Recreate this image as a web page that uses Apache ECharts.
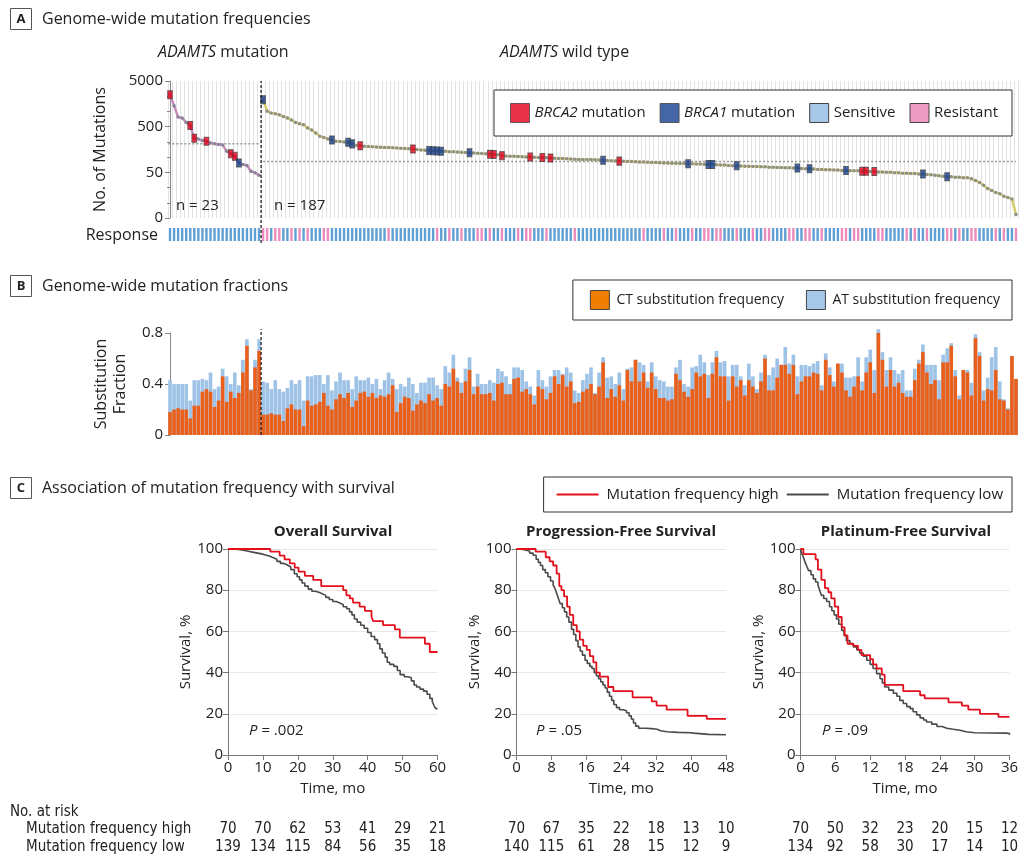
<!DOCTYPE html>
<html>
<head>
<meta charset="utf-8">
<title>ADAMTS mutation frequency</title>
<script src="https://cdn.jsdelivr.net/npm/echarts@6.0.0/dist/echarts.min.js"></script>
<style>
  html, body { margin: 0; padding: 0; background: #fff; }
  #main { width: 1022px; height: 858px; }
</style>
</head>
<body>
<div id="main"></div>
<script>
// ---- data ----
// A: number of mutations per sample (sorted), ADAMTS mutated group then wild type
var mutantCounts = [2500, 1440, 810, 775, 620, 530, 280, 268, 250, 240, 220, 212, 203, 199, 144, 128, 112, 80, 74, 71, 53, 49, 43];
var wildCounts = [
  1950, 1090, 990, 960, 910, 840, 775, 700, 620, 580,
  550, 470, 420, 365, 310, 290, 270, 255, 240, 236,
  232, 228, 210, 195, 190, 187, 184, 181, 179, 177,
  175, 174, 172, 170, 169, 167, 165, 162, 158, 155,
  152, 150, 148, 147, 145, 144, 142, 141, 139, 137,
  136, 134, 133, 131, 129, 127, 125, 123, 122, 116,
  114, 113, 112, 111, 110, 109, 108, 107, 106, 105,
  104, 103, 102, 101, 100, 99, 98, 97, 96, 96,
  95, 95, 94, 93, 92, 91, 90, 89, 88, 87,
  86, 86, 85, 84, 84, 83, 82, 82, 81, 80,
  80, 79, 79, 78, 78, 77, 77, 76, 76, 75,
  74, 74, 73, 72, 72, 71, 70, 70, 69, 68,
  68, 67, 67, 66, 66, 65, 65, 64, 64, 63,
  63, 62, 62, 61, 60, 60, 59, 58, 58, 57,
  57, 56, 56, 55, 55, 54, 54, 54, 53, 53,
  52, 52, 51, 51, 50, 50, 49, 49, 48, 48,
  47, 47, 46, 46, 45, 44, 43, 42, 41, 40,
  40, 39, 39, 38, 38, 36, 33, 30, 26, 22,
  20, 18, 17, 15, 14, 13, 6
];
var mutantMedian = 212;
var wildMedian = 86;
var mutTickLabels = ['0', '50', '500', '5000'];
var axisFloor = 5; // value sitting at the "0" tick of the log axis

// sample positions (0 based, over all 210) with BRCA mutations
var brca2Idx = [0, 5, 6, 9, 15, 16, 47, 60, 79, 80, 82, 89, 92, 94, 111, 171, 172, 174];
var brca1Idx = [17, 23, 40, 44, 45, 64, 65, 66, 67, 74, 107, 128, 133, 134, 140, 155, 158, 167, 186, 192];

// response per sample: S = sensitive, R = resistant
var responseMutant = 'SSSSSSSSSSSSSSSSSSSSSSS';
var responseWild =
  'RRSRRSSRSR' + 'SRSSSRRSSS' + 'SSSSSSSSSS' + 'SRSSSSSSSS' + 'SSSRSSRSSR' +
  'SSSRRSRSSR' + 'SSSRSRRSSS' + 'RSSSSSSRSS' + 'SSSSSSSSSS' + 'SSSSRSSSSR' +
  'SSRSSSRSSR' + 'RSRRSSSRSS' + 'SRSSRRSSSS' + 'RRSSRRSSRS' + 'SSSRRSRRSS' +
  'SSRRSSSSSR' + 'SRSSRSSSSR' + 'RSRSSRRSSS' + 'SRSRSSR';

// B: substitution fractions per sample (total height and CT part)
var totalFrac = [
  0.43, 0.40, 0.40, 0.40, 0.40, 0.27, 0.43, 0.43, 0.44, 0.43, 0.49, 0.36, 0.38, 0.52, 0.46, 0.40, 0.49, 0.39, 0.59, 0.75, 0.36, 0.59, 0.75,
  0.42, 0.41, 0.36, 0.43, 0.36, 0.34, 0.37, 0.43, 0.40, 0.43, 0.27, 0.46, 0.46, 0.47, 0.47, 0.40, 0.47, 0.35, 0.42, 0.49, 0.43, 0.43, 0.36, 0.46, 0.43, 0.43, 0.45, 0.40, 0.44, 0.36,
  0.43, 0.49, 0.44, 0.36, 0.40, 0.38, 0.45, 0.40, 0.33, 0.41, 0.41, 0.45, 0.45, 0.39, 0.36, 0.54, 0.49, 0.63, 0.45, 0.41, 0.52, 0.61, 0.38, 0.48, 0.40, 0.40,
  0.43, 0.41, 0.52, 0.50, 0.46, 0.40, 0.53, 0.53, 0.51, 0.42, 0.38, 0.31, 0.51, 0.43, 0.38, 0.46, 0.51, 0.51, 0.48, 0.53, 0.49, 0.35, 0.33, 0.43, 0.48, 0.53, 0.33,
  0.49, 0.61, 0.45, 0.46, 0.40, 0.49, 0.36, 0.52, 0.53, 0.59, 0.57, 0.55, 0.42, 0.57, 0.46, 0.43, 0.42, 0.38, 0.38, 0.53, 0.59, 0.40, 0.38, 0.53, 0.54, 0.63,
  0.57, 0.47, 0.57, 0.66, 0.57, 0.58, 0.46, 0.55, 0.55, 0.46, 0.39, 0.56, 0.46, 0.36, 0.49, 0.63, 0.47, 0.53, 0.60, 0.55, 0.69, 0.56, 0.63, 0.46, 0.55, 0.55,
  0.54, 0.56, 0.58, 0.39, 0.64, 0.53, 0.42, 0.56, 0.56, 0.45, 0.45, 0.46, 0.61, 0.42, 0.61, 0.67, 0.51, 0.83, 0.65, 0.51, 0.61, 0.51, 0.48, 0.51, 0.35, 0.35,
  0.52, 0.59, 0.71, 0.55, 0.55, 0.55, 0.43, 0.63, 0.68, 0.72, 0.51, 0.31, 0.51, 0.51, 0.41, 0.79, 0.65, 0.35, 0.45, 0.61, 0.69, 0.42, 0.28, 0.21, 0.62, 0.44
];
var ctFrac = [
  0.18, 0.20, 0.21, 0.20, 0.20, 0.13, 0.23, 0.23, 0.34, 0.36, 0.34, 0.22, 0.27, 0.46, 0.26, 0.34, 0.29, 0.33, 0.49, 0.70, 0.35, 0.53, 0.66,
  0.16, 0.16, 0.17, 0.16, 0.16, 0.11, 0.21, 0.24, 0.20, 0.20, 0.07, 0.27, 0.23, 0.24, 0.26, 0.33, 0.23, 0.20, 0.28, 0.32, 0.29, 0.33, 0.22, 0.27, 0.33, 0.34, 0.30, 0.33, 0.29, 0.31,
  0.30, 0.32, 0.39, 0.18, 0.25, 0.30, 0.29, 0.19, 0.24, 0.27, 0.25, 0.32, 0.27, 0.29, 0.23, 0.40, 0.38, 0.52, 0.42, 0.33, 0.42, 0.51, 0.32, 0.38, 0.32, 0.32,
  0.33, 0.27, 0.40, 0.41, 0.32, 0.32, 0.44, 0.45, 0.34, 0.36, 0.32, 0.24, 0.38, 0.36, 0.28, 0.33, 0.46, 0.40, 0.47, 0.38, 0.42, 0.25, 0.26, 0.34, 0.36, 0.40, 0.32,
  0.38, 0.57, 0.29, 0.36, 0.30, 0.39, 0.27, 0.51, 0.42, 0.59, 0.42, 0.49, 0.37, 0.49, 0.36, 0.29, 0.29, 0.27, 0.28, 0.48, 0.43, 0.34, 0.30, 0.36, 0.49, 0.46,
  0.48, 0.29, 0.48, 0.61, 0.46, 0.46, 0.27, 0.46, 0.38, 0.43, 0.31, 0.43, 0.38, 0.33, 0.42, 0.60, 0.35, 0.35, 0.45, 0.55, 0.55, 0.48, 0.55, 0.32, 0.42, 0.46,
  0.46, 0.49, 0.48, 0.35, 0.59, 0.47, 0.38, 0.56, 0.49, 0.35, 0.30, 0.38, 0.46, 0.35, 0.49, 0.57, 0.33, 0.80, 0.59, 0.38, 0.51, 0.38, 0.41, 0.33, 0.30, 0.30,
  0.43, 0.56, 0.65, 0.49, 0.40, 0.43, 0.28, 0.57, 0.57, 0.70, 0.46, 0.28, 0.51, 0.49, 0.31, 0.76, 0.62, 0.27, 0.36, 0.35, 0.51, 0.28, 0.27, 0.20, 0.62, 0.44
];

// C: Kaplan-Meier curves, [month, survival %]
var osHigh = [[0,100],[12.1,98.7],[14.8,96.8],[16.2,95],[17.7,93],[19.1,91],[20.2,89],[22,87],[24.4,85],[26.7,82],[33,80],[33.9,77.5],[34.9,76],[35.8,74],[37.7,72],[39.2,70],[41.1,67],[41.6,65],[44.4,63],[47.8,61],[49.2,57],[56.4,54],[57.8,50],[60,50]];
var osLow = [[0,100],[2,99.5],[4,99],[5.5,98.5],[7,98],[8.5,97.5],[10,97],[11,96.5],[12,95.8],[13,95],[14,94],[15,93],[16,92.2],[17,91.3],[18,90],[19,88],[19.8,86.5],[20.5,85],[21.2,83.5],[22,82],[23,80.5],[24,79.5],[25,79],[26,78.3],[27,77.5],[28,76.5],[29,75.5],[30,74.5],[31,73.8],[32,73],[33,72],[34,71],[34.8,69.5],[35.5,68],[36.2,66],[37,64.5],[38,63],[39,61.5],[40,59.5],[41,57.5],[42,56],[42.8,54],[43.5,51.5],[44.2,49.5],[45,47.5],[45.6,45],[46.3,44],[47.5,43],[48.5,41],[49.3,39],[50.5,38],[51.5,37.5],[52.5,36],[53.3,34],[54,33],[55,32],[56,31],[57,29.5],[57.8,27.5],[58.5,26],[59,24],[59.5,22.5],[60,22.5]];
var pfsHigh = [[0,100],[4.4,98.7],[6.7,96],[7.6,94],[8.4,92],[9.2,88],[9.8,82],[10.3,80],[10.9,77],[11.6,72],[12.2,68],[13,63],[13.8,60],[14.5,56],[15.3,53],[16.1,51],[16.8,48],[17.6,45],[18.3,40],[19.1,38],[21,33],[22.2,31],[26.6,28],[31,26],[32.1,24],[34.4,22],[39.2,19],[43.6,17.5],[48,17.5]];
var pfsLow = [[0,100],[1,99.5],[2,99],[3,98],[3.8,97],[4.5,95],[5,93.5],[5.5,92],[6,90],[6.6,88.5],[7.2,86.5],[7.8,84.5],[8.4,82.5],[8.8,81],[9.2,78.5],[9.6,76],[10,73.5],[10.5,71.5],[11,69.5],[11.5,67],[12,64.5],[12.6,61],[13.1,58.5],[13.6,55.5],[14.1,52.5],[14.6,50.5],[15.1,48.5],[15.7,46],[16.2,44.5],[16.8,43],[17.3,42],[17.8,40],[18.3,38.5],[18.8,37],[19.3,35.5],[19.8,34],[20.3,32.5],[20.8,30.5],[21.3,28.5],[21.8,26.5],[22.3,24.5],[22.9,23],[23.6,22],[24.5,21.5],[25.2,20.5],[25.8,19],[26.3,17.5],[26.8,15.5],[27.3,14],[28,13],[29.5,12.8],[31,12.5],[32.2,11.8],[33,11.3],[34.5,11],[37,10.8],[40,10.6],[40.6,10],[44,9.8],[48,9.8]];
var pfiHigh = [[0,100],[0.5,97.5],[2.6,95],[3,90],[3.6,85],[4.2,81],[4.8,79],[5.3,76],[5.9,72],[6.5,67],[7.1,62],[7.6,58],[8.1,54],[9.1,53],[9.9,51],[10.5,48.5],[12,46.5],[12.5,44],[13.1,42],[14,39],[14.5,34],[17.7,31],[20.6,29],[21.4,27.5],[25.5,25.5],[27.8,24],[28.9,22],[30.9,20],[34.1,18.5],[36,18.5]];
var pfiLow = [[0,100],[0.2,98],[0.5,96],[0.8,93.5],[1.1,91.5],[1.4,89.5],[1.8,87.5],[2.2,85.5],[2.6,84],[3,82.5],[3.3,80],[3.6,77.5],[4,76],[4.5,74.5],[5,72],[5.4,70],[5.8,68],[6.2,66],[6.6,63.5],[7.1,60.5],[7.5,58],[7.9,55.5],[8.5,54],[9.1,52.5],[9.7,51],[10.2,49.5],[10.8,48],[11.4,46],[12,44],[12.5,42],[13.1,39.5],[13.7,37],[14.1,35],[14.5,33],[15.2,31.5],[16,30],[16.6,28.5],[17.1,26.5],[17.7,25],[18.3,23.5],[18.9,22.5],[19.4,21],[20,19.5],[20.6,18],[21.2,17],[21.7,16],[22.6,15],[23.5,13.8],[24.4,13],[25.2,12.5],[26.3,12],[27.5,11.3],[28.5,10.8],[30,10.6],[35.5,10.4],[36,9.8]];

// number at risk, one value per x tick
var riskOsHigh = [70, 70, 62, 53, 41, 29, 21];
var riskOsLow = [139, 134, 115, 84, 56, 35, 18];
var riskPfsHigh = [70, 67, 35, 22, 18, 13, 10];
var riskPfsLow = [140, 115, 61, 28, 15, 12, 9];
var riskPfiHigh = [70, 50, 32, 23, 20, 15, 12];
var riskPfiLow = [134, 92, 58, 30, 17, 14, 10];

// ---- chart ----
var FONT = "'Open Sans', sans-serif";
var NARROW = "'DejaVu Sans Condensed', 'Liberation Sans Narrow', sans-serif";
var RED = '#e3101c';
var DARK = '#4a4a4a';

var allCounts = mutantCounts.concat(wildCounts);
var responses = (responseMutant + responseWild).split('');
var nMut = mutantCounts.length;
var nAll = allCounts.length;
var toLog = function (v) { return Math.log10(v / axisFloor); };
var sampleIds = allCounts.map(function (v, i) { return 'S' + (i + 1); });

var chart = echarts.init(document.getElementById('main'));

function kmX(gi, max, step) {
  return {
    gridIndex: gi, type: 'value', min: 0, max: max, interval: step,
    name: 'Time, mo', nameLocation: 'middle', nameGap: 26,
    nameTextStyle: { fontFamily: FONT, fontSize: 15, color: '#222' },
    axisLine: { lineStyle: { color: '#777' } },
    axisTick: { length: 5, lineStyle: { color: '#777' } },
    axisLabel: { fontFamily: FONT, fontSize: 15, color: '#222', margin: 5 },
    splitLine: { show: false }
  };
}
function kmY(gi) {
  return {
    gridIndex: gi, type: 'value', min: 0, max: 100, interval: 20,
    name: 'Survival, %', nameLocation: 'middle', nameGap: 34,
    nameTextStyle: { fontFamily: FONT, fontSize: 15, color: '#222' },
    axisLine: { show: true, lineStyle: { color: '#777' } },
    axisTick: { show: true, length: 5, lineStyle: { color: '#777' } },
    axisLabel: { fontFamily: FONT, fontSize: 15, color: '#222', margin: 5 },
    splitLine: { lineStyle: { color: '#e8e8e8' } }
  };
}
// extra axes used to print the "No. at risk" rows under each plot
function riskAxis(gi, max, step, arr, offset) {
  return {
    gridIndex: gi, type: 'value', min: 0, max: max, interval: step,
    position: 'bottom', offset: offset,
    axisLine: { show: false }, axisTick: { show: false }, splitLine: { show: false },
    axisLabel: {
      fontFamily: NARROW, fontSize: 15, color: '#222', margin: 0, verticalAlign: 'middle',
      formatter: function (v) { return arr[Math.round(v / step)]; }
    }
  };
}
function km(name, data, xi, yi, color) {
  return {
    name: name, type: 'line', step: 'end', data: data, xAxisIndex: xi, yAxisIndex: yi,
    symbol: 'none', lineStyle: { color: color, width: color === RED ? 1.8 : 1.6 }, itemStyle: { color: color },
    z: color === RED ? 4 : 3
  };
}
function italicText(x, y, rich, size, align) {
  return {
    type: 'text', x: x, y: y, z: 100,
    style: {
      text: rich, fontFamily: FONT, fontSize: size, fill: '#222', align: align || 'left', verticalAlign: 'middle',
      rich: { i: { fontStyle: 'italic', fontFamily: FONT, fontSize: size, fill: '#222' } }
    }
  };
}
function plain(x, y, s, size, opt) {
  opt = opt || {};
  return {
    type: 'text', x: x, y: y, z: 100,
    style: {
      text: s, fontFamily: opt.family || FONT, fontSize: size, fontWeight: opt.bold ? 'bold' : 'normal',
      fill: '#222', align: opt.align || 'left', verticalAlign: 'middle'
    }
  };
}
function panelTag(letter, y) {
  return [
    { type: 'rect', z: 100, shape: { x: 10.5, y: y - 10.5, width: 21, height: 21 }, style: { fill: '#fff', stroke: '#555', lineWidth: 1 } },
    plain(21, y, letter, 13, { bold: true, align: 'center' })
  ];
}

var option = {
  animation: false,
  backgroundColor: '#fff',
  grid: [
    { left: 168, top: 81, width: 850, height: 137 },   // A
    { left: 168, top: 228, width: 850, height: 13 },   // A response strip
    { left: 168, top: 333, width: 850, height: 102 },  // B
    { left: 228, top: 549, width: 209.5, height: 206 }, // OS
    { left: 516.5, top: 549, width: 209.5, height: 206 }, // PFS
    { left: 800.5, top: 549, width: 209, height: 206 }    // PFI
  ],
  legend: [
    {
      data: ['BRCA2 mutation', 'BRCA1 mutation',
        { name: 'Sensitive', itemStyle: { color: '#a7c7e8' } },
        { name: 'Resistant', itemStyle: { color: '#ef9cc2' } }],
      right: 10, top: 90, icon: 'rect', itemWidth: 19, itemHeight: 19, itemGap: 14,
      padding: [13, 14, 13, 16], borderColor: '#333', borderWidth: 1, backgroundColor: '#fff',
      selectedMode: false,
      itemStyle: { borderColor: '#444', borderWidth: 1 },
      formatter: function (n) {
        if (n === 'BRCA2 mutation') return '{i|BRCA2} mutation';
        if (n === 'BRCA1 mutation') return '{i|BRCA1} mutation';
        return n;
      },
      textStyle: { fontFamily: FONT, fontSize: 15, color: '#222',
        rich: { i: { fontStyle: 'italic', fontFamily: FONT, fontSize: 15, color: '#222' } } }
    },
    {
      data: [{ name: 'CT substitution frequency', itemStyle: { color: '#ef7d00' } },
        { name: 'AT substitution frequency', itemStyle: { color: '#a7c7e8' } }],
      right: 10, top: 280, icon: 'rect', itemWidth: 19, itemHeight: 19, itemGap: 22,
      padding: [10, 12, 10, 17], borderColor: '#333', borderWidth: 1, backgroundColor: '#fff',
      selectedMode: false,
      itemStyle: { borderColor: '#444', borderWidth: 1 },
      textStyle: { fontFamily: FONT, fontSize: 14, color: '#222', padding: [0, 0, 0, 2] }
    },
    {
      data: ['Mutation frequency high', 'Mutation frequency low'],
      right: 10, top: 477, icon: 'rect', itemWidth: 42, itemHeight: 2, itemGap: 8,
      padding: [10, 9, 10, 13], borderColor: '#333', borderWidth: 1, backgroundColor: '#fff',
      selectedMode: false,
      textStyle: { fontFamily: FONT, fontSize: 15, color: '#222', padding: [0, 0, 0, 3] }
    }
  ],
  xAxis: [
    { gridIndex: 0, type: 'value', min: -0.5, max: nAll - 0.5, interval: 1,
      axisLine: { show: false }, axisTick: { show: false }, axisLabel: { show: false },
      splitLine: { show: true, lineStyle: { color: '#e2e2e2', width: 1 } } },
    { gridIndex: 1, type: 'value', min: -0.5, max: nAll - 0.5, show: false },
    { gridIndex: 2, type: 'category', data: sampleIds, show: false },
    { gridIndex: 2, type: 'value', min: -0.5, max: nAll - 0.5, show: false },
    kmX(3, 60, 10), kmX(4, 48, 8), kmX(5, 36, 6),
    riskAxis(3, 60, 10, riskOsHigh, 74), riskAxis(3, 60, 10, riskOsLow, 92),
    riskAxis(4, 48, 8, riskPfsHigh, 74), riskAxis(4, 48, 8, riskPfsLow, 92),
    riskAxis(5, 36, 6, riskPfiHigh, 74), riskAxis(5, 36, 6, riskPfiLow, 92)
  ],
  yAxis: [
    { gridIndex: 0, type: 'value', min: 0, max: 3, interval: 1,
      name: 'No. of Mutations', nameLocation: 'middle', nameGap: 60,
      nameTextStyle: { fontFamily: FONT, fontSize: 16, color: '#222' },
      axisLine: { show: true, lineStyle: { color: '#888' } },
      axisTick: { show: true, length: 5, lineStyle: { color: '#888' } },
      minorTick: { show: true, splitNumber: 3, length: 3, lineStyle: { color: '#888' } },
      axisLabel: { fontFamily: FONT, fontSize: 15, color: '#222', margin: 5,
        formatter: function (v) { return mutTickLabels[Math.round(v)]; } },
      splitLine: { show: false } },
    { gridIndex: 1, type: 'value', min: 0, max: 1, show: false },
    { gridIndex: 2, type: 'value', min: 0, max: 0.8, interval: 0.4,
      name: 'Substitution\nFraction', nameLocation: 'middle', nameGap: 38,
      nameTextStyle: { fontFamily: FONT, fontSize: 16, color: '#222', lineHeight: 19 },
      axisLine: { show: true, lineStyle: { color: '#888' } },
      axisTick: { show: true, length: 5, lineStyle: { color: '#888' } },
      axisLabel: { fontFamily: FONT, fontSize: 15, color: '#222', margin: 5,
        formatter: function (v) { return v === 0 ? '0' : v.toFixed(1); } },
      splitLine: { show: false } },
    kmY(3), kmY(4), kmY(5)
  ],
  series: [
    // A: sorted counts
    { type: 'line', xAxisIndex: 0, yAxisIndex: 0, z: 3,
      data: mutantCounts.map(function (v, i) { return [i, toLog(v)]; }),
      lineStyle: { color: '#c88bbb', width: 2.5 }, symbol: 'circle', symbolSize: 3.5,
      itemStyle: { color: '#8a8598' } },
    { type: 'line', xAxisIndex: 0, yAxisIndex: 0, z: 3,
      data: wildCounts.map(function (v, i) { return [i + nMut, toLog(v)]; }),
      lineStyle: { color: '#d5cc6c', width: 2.5 }, symbol: 'circle', symbolSize: 3.5,
      itemStyle: { color: '#8f9088' } },
    // medians
    { type: 'line', xAxisIndex: 0, yAxisIndex: 0, symbol: 'none', z: 2,
      data: [[-0.4, toLog(mutantMedian)], [nMut - 0.6, toLog(mutantMedian)]],
      lineStyle: { color: '#999', width: 1.5, type: [2, 2] } },
    { type: 'line', xAxisIndex: 0, yAxisIndex: 0, symbol: 'none', z: 2,
      data: [[nMut, toLog(wildMedian)], [nAll - 1, toLog(wildMedian)]],
      lineStyle: { color: '#999', width: 1.5, type: [2, 2] } },
    // BRCA markers
    { name: 'BRCA2 mutation', type: 'scatter', xAxisIndex: 0, yAxisIndex: 0, z: 5,
      symbol: 'rect', symbolSize: [5, 8],
      itemStyle: { color: '#e2001a', borderColor: '#444', borderWidth: 0.8 },
      data: brca2Idx.map(function (i) { return [i, toLog(allCounts[i])]; }) },
    { name: 'BRCA1 mutation', type: 'scatter', xAxisIndex: 0, yAxisIndex: 0, z: 5,
      symbol: 'rect', symbolSize: [5, 8],
      itemStyle: { color: '#17408e', borderColor: '#444', borderWidth: 0.8 },
      data: brca1Idx.map(function (i) { return [i, toLog(allCounts[i])]; }) },
    // group divider (A + response strip)
    { type: 'line', xAxisIndex: 0, yAxisIndex: 0, symbol: 'none', clip: false, z: 6,
      data: [[nMut - 0.5, -0.55], [nMut - 0.5, 3]],
      lineStyle: { color: '#111', width: 1.2, type: [3, 2] } },
    // response strip
    { name: 'Sensitive', type: 'bar', xAxisIndex: 1, yAxisIndex: 1, barWidth: 2.4,
      itemStyle: { color: '#5f9fd3' },
      data: responses.map(function (r, i) { return r === 'S' ? [i, 1] : [i, '-']; }) },
    { name: 'Resistant', type: 'bar', xAxisIndex: 1, yAxisIndex: 1, barWidth: 2.4, barGap: '-100%',
      itemStyle: { color: '#ec8cbc' },
      data: responses.map(function (r, i) { return r === 'R' ? [i, 1] : [i, '-']; }) },
    // B: stacked look, total (blue) behind CT (orange)
    { name: 'AT substitution frequency', type: 'bar', xAxisIndex: 2, yAxisIndex: 2, clip: false,
      barCategoryGap: '10%', itemStyle: { color: '#9ec3e6' }, data: totalFrac },
    { name: 'CT substitution frequency', type: 'bar', xAxisIndex: 2, yAxisIndex: 2, clip: false,
      barGap: '-100%', itemStyle: { color: '#e8601c' }, data: ctFrac },
    { type: 'line', xAxisIndex: 3, yAxisIndex: 2, symbol: 'none', clip: false, z: 6,
      data: [[nMut - 0.5, 0], [nMut - 0.5, 0.83]],
      lineStyle: { color: '#111', width: 1.2, type: [3, 2] } },
    // C: survival curves
    km('Mutation frequency high', osHigh, 4, 3, RED),
    km('Mutation frequency low', osLow, 4, 3, DARK),
    km('Mutation frequency high', pfsHigh, 5, 4, RED),
    km('Mutation frequency low', pfsLow, 5, 4, DARK),
    km('Mutation frequency high', pfiHigh, 6, 5, RED),
    km('Mutation frequency low', pfiLow, 6, 5, DARK)
  ],
  graphic: [].concat(
    panelTag('A', 19), panelTag('B', 286), panelTag('C', 488),
    [
      plain(42, 19, 'Genome-wide mutation frequencies', 16),
      plain(42, 286, 'Genome-wide mutation fractions', 16),
      plain(42, 488, 'Association of mutation frequency with survival', 16),
      italicText(158, 52, '{i|ADAMTS} mutation', 16),
      italicText(500, 52, '{i|ADAMTS} wild type', 16),
      plain(176, 206, 'n = 23', 15),
      plain(274, 206, 'n = 187', 15),
      plain(158, 235, 'Response', 16, { align: 'right' }),
      plain(333, 532, 'Overall Survival', 15, { bold: true, align: 'center' }),
      plain(621, 532, 'Progression-Free Survival', 15, { bold: true, align: 'center' }),
      plain(906, 532, 'Platinum-Free Survival', 15, { bold: true, align: 'center' }),
      italicText(249, 731, '{i|P} = .002', 15),
      italicText(536, 731, '{i|P} = .05', 15),
      italicText(822, 731, '{i|P} = .09', 15),
      plain(10, 812, 'No. at risk', 15, { family: NARROW }),
      plain(26, 829, 'Mutation frequency high', 15, { family: NARROW }),
      plain(26, 847, 'Mutation frequency low', 15, { family: NARROW })
    ]
  )
};

chart.setOption(option);
</script>
</body>
</html>
